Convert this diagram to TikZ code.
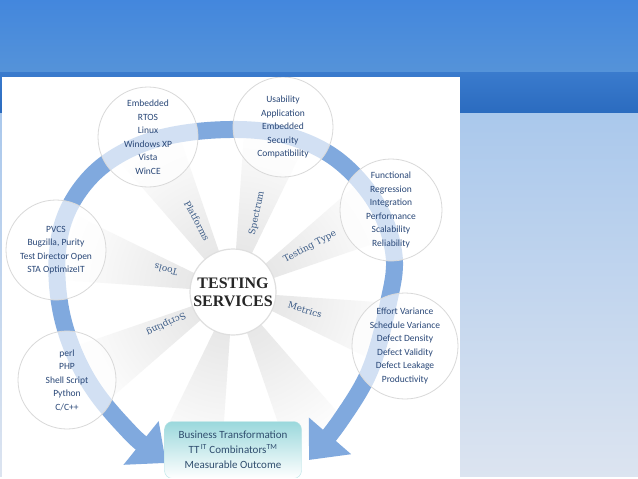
\documentclass[tikz,border=0pt]{standalone}
\usepackage{fontspec}
\setmainfont{Carlito}
\newfontfamily\slabfont{DejaVu Serif}
\newfontfamily\headfont{Liberation Serif}
\usepackage{tikz}
\usetikzlibrary{arrows.meta}

\definecolor{bannertop}{HTML}{4387DD}
\definecolor{bannerbot}{HTML}{5593D9}
\definecolor{bandtop}{HTML}{3A7BCD}
\definecolor{bandbot}{HTML}{2B6BBF}
\definecolor{lighttop}{HTML}{AAC8EC}
\definecolor{lightbot}{HTML}{DCE4F0}
\definecolor{hoopblue}{HTML}{80A9DE}
\definecolor{podtext}{HTML}{2A4878}
\definecolor{spoketext}{HTML}{3B5B86}
\definecolor{hubtext}{HTML}{262626}
\definecolor{boxteal}{HTML}{9AD8DC}
\definecolor{outtext}{HTML}{2F4D6E}

\pgfdeclareradialshading{wheelfade}{\pgfpoint{0bp}{0bp}}{color(0bp)=(gray!22); color(8bp)=(gray!17); color(18bp)=(gray!7); color(25bp)=(white); color(50bp)=(white)}

\tikzset{
  pod/.style={circle, minimum size=100pt, inner sep=0pt, fill=white, fill opacity=0.65,
    text opacity=1, draw=gray!30, line width=0.8pt, text=podtext, align=center,
    font=\fontsize{9.5}{13.5}\selectfont},
  spoke/.style={text=spoketext, font=\slabfont\fontsize{9}{10}\selectfont},
  hub/.style={circle, minimum size=86pt, inner sep=0pt, fill=white, draw=gray!25,
    line width=1.2pt, text=hubtext, align=center,
    font=\headfont\bfseries\fontsize{16}{18}\selectfont},
  outcome/.style={rounded corners=8pt, minimum width=137pt, minimum height=57pt,
    top color=boxteal, bottom color=white, draw=boxteal!70, text=outtext,
    align=center, font=\fontsize{11}{15}\selectfont},
  hoop/.style={line width=17pt, draw=hoopblue,
    arrows={Triangle[length=32pt,width=54pt]-Triangle[length=32pt,width=54pt]}}
}

\begin{document}
\begin{tikzpicture}[x=1pt,y=-1pt]
\useasboundingbox (0,0) rectangle (638,479);

% slide background
\shade[top color=bannertop, bottom color=bannerbot] (0,0) rectangle (638,72);
\shade[top color=bandtop, bottom color=bandbot] (0,72) rectangle (638,113);
\shade[top color=lighttop, bottom color=lightbot] (0,113) rectangle (638,477);
\fill[white] (0,477) rectangle (638,479);
\fill[white] (2,77) rectangle (460,477);

\begin{scope}
\clip (2,77) rectangle (460,477);

% wheel spokes
\begin{scope}
\clip \foreach \a in {30,75,...,345} {(233,292) -- +(\a-11:175pt) -- +(\a+11:175pt) -- cycle};
\shade[shading=wheelfade] (233,292) circle[radius=175pt];
\end{scope}

% big arrow round the wheel
\draw[hoop] plot[smooth, tension=0.6] coordinates {(166,463) (122,424) (86,377) (63,320) (57,260)
  (68,210) (100,168) (150,141) (215,130) (280,134) (335,158) (376,203) (394,255) (388,305)
  (370,370) (340,421) (309,460)};

% satellite circles
\node[pod] (platforms) at (148,137) {Embedded\\RTOS\\Linux\\Windows XP\\Vista\\WinCE};
\node[pod] (spectrum) at (283,127) {Usability\\Application\\Embedded\\Security\\Compatibility};
\node[pod, minimum size=102pt] (testtype) at (391,210) {Functional\\Regression\\Integration\\Performance\\Scalability\\Reliability};
\node[pod, minimum size=106pt] (metrics) at (405,346) {Effort Variance\\Schedule Variance\\Defect Density\\Defect Validity\\Defect Leakage\\Productivity};
\node[pod] (tools) at (56,250) {PVCS\\Bugzilla, Purity\\Test Director Open\\STA OptimizeIT};
\node[pod, minimum size=98pt] (scripting) at (67,380) {perl\\PHP\\Shell Script\\Python\\C/C++};

% centre
\node[hub] (hub) at (233,292) {TESTING\\SERVICES};

% spoke labels
\node[spoke, rotate=-62] (lplatforms) at (197,221) {Platforms};
\node[spoke, rotate=78] (lspectrum) at (257,213) {Spectrum};
\node[spoke, rotate=28] (ltesttype) at (310,247) {Testing Type};
\node[spoke, rotate=-17] (lmetrics) at (305,310) {Metrics};
\node[spoke, rotate=165] (ltools) at (166,270) {Tools};
\node[spoke, rotate=205] (lscripting) at (166,324) {Scripting};

% result box
\node[outcome] (outcome) at (233,450) {Business Transformation\\TT\textsuperscript{\,IT} Combinators\textsuperscript{TM}\\Measurable Outcome};
\end{scope}
\end{tikzpicture}
\end{document}
